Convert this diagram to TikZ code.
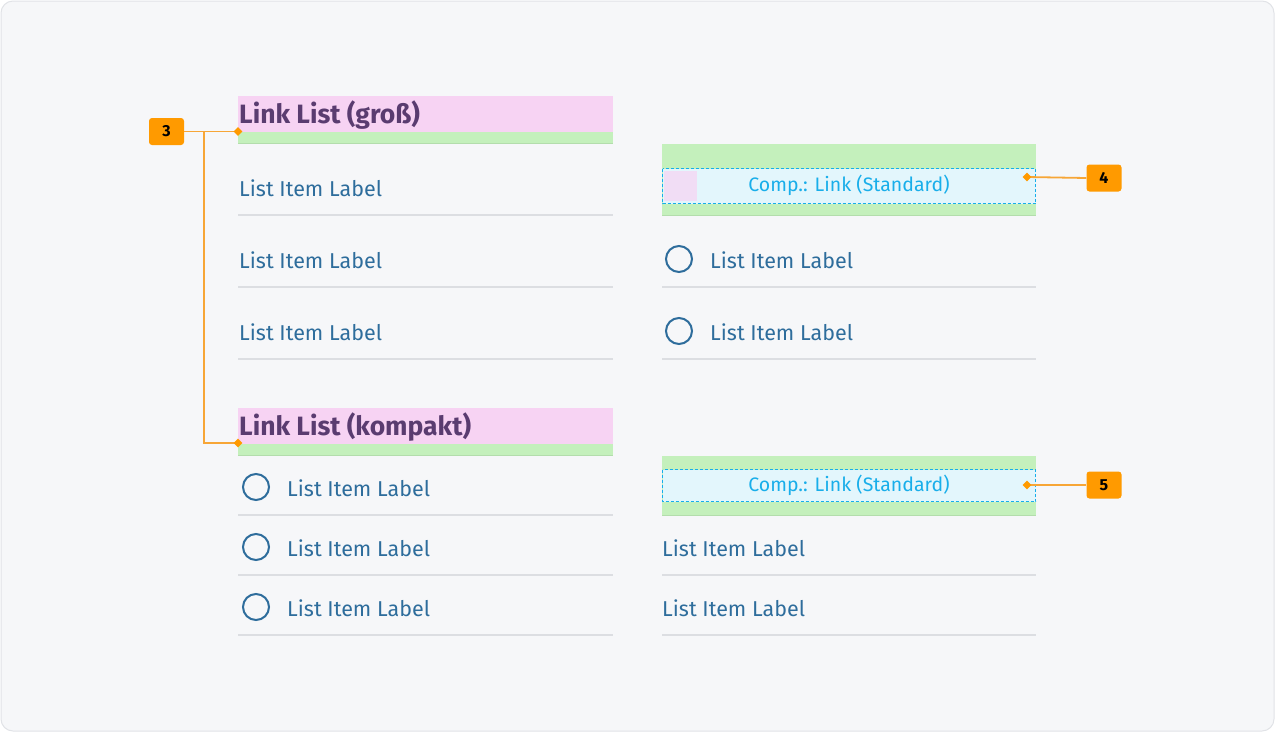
\documentclass[tikz,border=0pt]{standalone}
\usepackage{fontspec}
\setmainfont{Fira Sans}
\usetikzlibrary{positioning,shapes.geometric}

\definecolor{bgcol}{HTML}{F6F7F9}
\definecolor{bordercol}{HTML}{E1E3E7}
\definecolor{pinkband}{HTML}{F7D3F3}
\definecolor{greenband}{HTML}{C4F0BC}
\definecolor{greenedge}{HTML}{B3DDAC}
\definecolor{headcol}{HTML}{5A3C70}
\definecolor{itemcol}{HTML}{2E6D9C}
\definecolor{sepcol}{HTML}{DCDEE2}
\definecolor{compfill}{HTML}{E3F6FC}
\definecolor{compcol}{HTML}{18AEEA}
\definecolor{markcol}{HTML}{FF9A00}
\definecolor{linecol}{HTML}{F7A637}

\tikzset{
  heading/.style={anchor=west, inner sep=0pt, text=headcol, font=\fontsize{26.5}{30}\selectfont\bfseries},
  item/.style={anchor=west, inner sep=0pt, text=itemcol, font=\fontsize{21.5}{25}\selectfont},
  radio/.style={circle, draw=itemcol, line width=2pt, minimum size=26pt, inner sep=0pt},
  sep/.style={draw=sepcol, line width=1.2pt},
  comp/.style={draw=compcol, fill=compfill, dash pattern=on 3pt off 2pt, line width=1.3pt},
  complabel/.style={inner sep=0pt, text=compcol, font=\fontsize{19.5}{24}\selectfont},
  badge/.style={fill=markcol, rounded corners=3pt, minimum width=35pt, minimum height=27pt,
    inner sep=0pt, font=\fontsize{16}{18}\selectfont\bfseries},
  pin/.style={diamond, fill=markcol, minimum size=9pt, inner sep=0pt},
  callout/.style={draw=linecol, line width=1.8pt}
}

\begin{document}
\begin{tikzpicture}[x=1pt, y=-1pt]
    \useasboundingbox (0,0) rectangle (1275,732);
    \draw[fill=bgcol, draw=bordercol, line width=1pt, rounded corners=12pt] (1,1) rectangle (1274,731);

    % left column, large list
    \fill[pinkband] (238,96) rectangle (613,132);
    \fill[greenband] (238,132) rectangle (613,143);
    \draw[sep, draw=greenedge] (238,143.5) -- (613,143.5);
    \node[heading] (headA) at (239,115) {Link List (groß)};
    \foreach \y/\s [count=\i] in {188/215, 260/287, 332/359} {
        \node[item] (itemA\i) at (239,\y) {List Item Label};
        \draw[sep] (238,\s) -- (613,\s);
    }

    % left column, compact list
    \fill[pinkband] (238,408) rectangle (613,444);
    \fill[greenband] (238,444) rectangle (613,455);
    \draw[sep, draw=greenedge] (238,455.5) -- (613,455.5);
    \node[heading] (headB) at (239,427) {Link List (kompakt)};
    \foreach \y/\s [count=\i] in {488/515, 548/575, 608/635} {
        \node[radio] (radioB\i) at (256,\y-1) {};
        \node[item] (itemB\i) at (287,\y) {List Item Label};
        \draw[sep] (238,\s) -- (613,\s);
    }

    % right column, large list with link overlay
    \fill[greenband] (662,144) rectangle (1036,215);
    \draw[sep, draw=greenedge] (662,215.5) -- (1036,215.5);
    \draw[comp] (662.5,168.5) rectangle (1035.5,203.5);
    \fill[pinkband, opacity=0.7] (664,171) rectangle (697,201);
    \node[complabel] (compA) at (849,185) {Comp.: Link (Standard)};
    \foreach \y/\s [count=\i] in {260/287, 332/359} {
        \node[radio] (radioC\i) at (679,\y-1) {};
        \node[item] (itemC\i) at (710,\y) {List Item Label};
        \draw[sep] (662,\s) -- (1036,\s);
    }

    % right column, compact list with link overlay
    \fill[greenband] (662,456) rectangle (1036,515);
    \draw[sep, draw=greenedge] (662,515.5) -- (1036,515.5);
    \draw[comp] (662.5,469.5) rectangle (1035.5,501.5);
    \node[complabel] (compB) at (849,485) {Comp.: Link (Standard)};
    \foreach \y/\s [count=\i] in {548/575, 608/635} {
        \node[item] (itemD\i) at (662,\y) {List Item Label};
        \draw[sep] (662,\s) -- (1036,\s);
    }

    % callouts
    \node[badge] (badge3) at (166.5,131.5) {3};
    \node[badge] (badge4) at (1104,178) {4};
    \node[badge] (badge5) at (1104,485) {5};
    \coordinate (fork) at (204,131.5);
    \coordinate (tipA) at (238,131.5);
    \coordinate (tipB) at (238,443);
    \coordinate (tipC) at (1027,177);
    \coordinate (tipD) at (1027,485);
    \draw[callout] (badge3.east) -- (tipA);
    \draw[callout] (fork) |- (tipB);
    \draw[callout] (tipC) -- (badge4.west);
    \draw[callout] (tipD) -- (badge5.west);
    \node[pin] (pinA) at (tipA) {};
    \node[pin] (pinB) at (tipB) {};
    \node[pin] (pinC) at (tipC) {};
    \node[pin] (pinD) at (tipD) {};
\end{tikzpicture}
\end{document}
